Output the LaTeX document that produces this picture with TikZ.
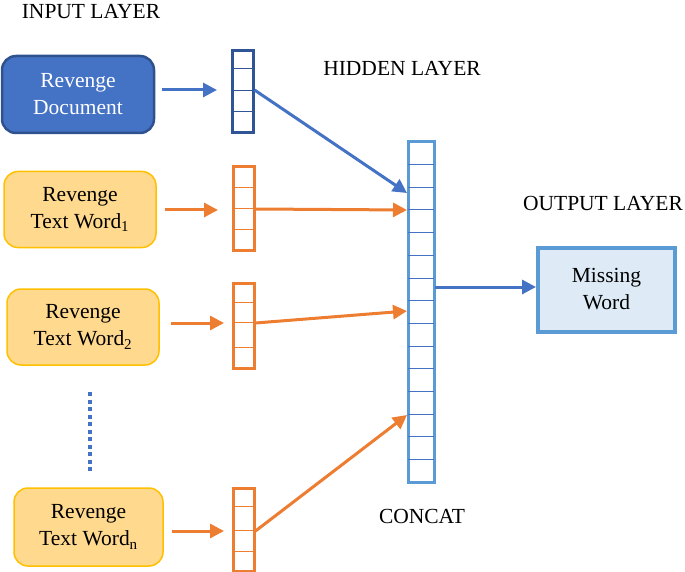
\documentclass[tikz,border=0pt]{standalone}
\usepackage{fontspec}
\setmainfont{Liberation Serif}
\usetikzlibrary{arrows.meta}
\definecolor{docblue}{HTML}{4472C4}
\definecolor{docedge}{HTML}{2F528F}
\definecolor{vecdark}{HTML}{2F5597}
\definecolor{lblue}{HTML}{5B9BD5}
\definecolor{lfill}{HTML}{DEEBF7}
\definecolor{orng}{HTML}{ED7D31}
\definecolor{ofill}{HTML}{FFD98E}
\definecolor{oedge}{HTML}{FFC000}
\tikzset{
  boxtext/.style={font=\fontsize{21.5}{27}\selectfont, align=center},
  lbl/.style={font=\fontsize{21.5}{24}\selectfont, inner sep=0pt},
  docbox/.style={boxtext, draw=docedge, line width=2.5pt, fill=docblue, text=white, rounded corners=14pt, minimum width=152pt, minimum height=77pt},
  wordbox/.style={boxtext, draw=oedge, line width=1.5pt, fill=ofill, rounded corners=14pt, minimum width=152pt, minimum height=76pt},
  outbox/.style={boxtext, draw=lblue, line width=4pt, fill=lfill, minimum width=137pt, minimum height=84pt},
  vecbox/.style={draw, line width=3pt, minimum width=21pt, minimum height=82pt, inner sep=0pt},
  bigvec/.style={draw=lblue, line width=3pt, minimum width=26pt, minimum height=340pt, inner sep=0pt},
  barrow/.style={draw=docblue, line width=3pt, -{Triangle[length=14pt,width=14pt]}},
  oarrow/.style={draw=orng, line width=3pt, -{Triangle[length=14pt,width=14pt]}},
  divider/.style={line width=1pt}
}
\begin{document}
\begin{tikzpicture}[x=1pt,y=-1pt]
\useasboundingbox (0,0) rectangle (685,572);
% labels
\node[lbl] (lin) at (91,12) {INPUT LAYER};
\node[lbl] (lhid) at (402,68) {HIDDEN LAYER};
\node[lbl] (lout) at (603,203) {OUTPUT LAYER};
\node[lbl] (lcat) at (422,516) {CONCAT};
% input boxes
\node[docbox] (doc) at (78,94.5) {Revenge\\Document};
\node[wordbox] (w1) at (80,209.5) {Revenge\\Text Word\textsubscript{1}};
\node[wordbox] (w2) at (83,327) {Revenge\\Text Word\textsubscript{2}};
\node[wordbox, minimum width=149pt, minimum height=78pt] (wn) at (88.5,527) {Revenge\\Text Word\textsubscript{n}};
% dots
\coordinate (d1) at (90,392);
\coordinate (d2) at (90,471);
\draw[docblue, line width=4pt, dash pattern=on 4pt off 3.5pt] (d1) -- (d2);
% small vectors
\node[vecbox, draw=vecdark, minimum height=82pt] (v1) at (243,92) {};
\foreach \y in {69,91,112} \draw[divider, vecdark] (232,\y) -- (254,\y);
\node[vecbox, draw=orng, minimum height=83pt] (v2) at (244,208.5) {};
\foreach \y in {188,209,229} \draw[divider, orng] (233,\y) -- (255,\y);
\node[vecbox, draw=orng, minimum height=85pt] (v3) at (244,325.5) {};
\foreach \y in {302,322,347} \draw[divider, orng] (233,\y) -- (255,\y);
\node[vecbox, draw=orng, minimum height=83pt] (v4) at (244,529.5) {};
\foreach \y in {506,530,551} \draw[divider, orng] (233,\y) -- (255,\y);
% concat vector
\node[bigvec] (h) at (421,312) {};
\foreach \i in {1,...,14} \draw[divider, docblue] (408,{142+\i*340/15}) -- (434,{142+\i*340/15});
% output
\node[outbox] (out) at (606.5,289.5) {Missing\\Word};
% arrows box -> vector
\coordinate (a1) at (162,90);  \coordinate (b1) at (217,90);
\coordinate (a2) at (165,210); \coordinate (b2) at (218,210);
\coordinate (a3) at (171,323); \coordinate (b3) at (224,323);
\coordinate (a4) at (172,531); \coordinate (b4) at (224,531);
\draw[barrow] (a1) -- (b1);
\draw[oarrow] (a2) -- (b2);
\draw[oarrow] (a3) -- (b3);
\draw[oarrow] (a4) -- (b4);
% vector -> concat
\coordinate (t1) at (407,193);
\coordinate (t2) at (407,210);
\coordinate (t3) at (407,311);
\coordinate (t4) at (407,415);
\coordinate (s1) at (254.5,90);
\coordinate (s2) at (255.5,209);
\coordinate (s3) at (255.5,323);
\coordinate (s4) at (255.5,531);
\draw[barrow] (s1) -- (t1);
\draw[oarrow] (s2) -- (t2);
\draw[oarrow] (s3) -- (t3);
\draw[oarrow] (s4) -- (t4);
% concat -> output
\coordinate (s5) at (435,287);
\draw[barrow] (s5) -- (out.west |- s5);
\end{tikzpicture}
\end{document}
